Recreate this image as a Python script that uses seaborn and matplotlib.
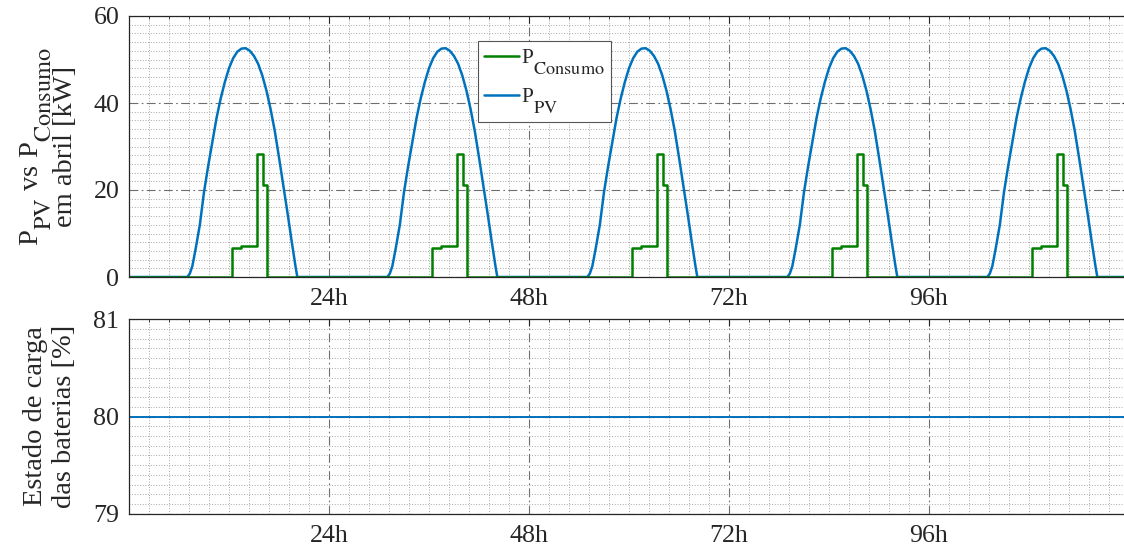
import numpy as np
import pandas as pd
import matplotlib
matplotlib.use('Agg')
import matplotlib.pyplot as plt
import matplotlib._mathtext as mathtext_interno
import seaborn as sns
from matplotlib.ticker import FixedLocator, MultipleLocator

# subscritos maiores e mais baixos, como no MATLAB
mathtext_interno.SHRINK_FACTOR = 0.85
mathtext_interno.STIXFontConstants.sub1 = 1.15

# perfil diario da geracao PV (hora do dia, kW)
pv_horas = [7.0, 7.3, 7.6, 8.0, 8.5, 9.0, 9.5, 10.0, 10.5, 11.0, 11.5, 12.0, 12.5,
            13.0, 13.5, 14.0, 14.5, 15.0, 15.5, 16.0, 16.5, 17.0, 17.5, 18.0,
            18.5, 19.0, 19.5, 20.0, 20.2]
pv_kw = [0.0, 0.8, 2.5, 6.5, 12.0, 19.5, 25.5, 31.0, 36.5, 41.0, 44.8, 48.0, 50.3,
         51.8, 52.5, 52.6, 52.0, 50.8, 49.0, 46.3, 42.8, 38.5, 33.5, 27.5,
         21.3, 15.0, 8.5, 2.2, 0.0]

# perfil diario do consumo (degraus: hora de inicio, kW)
cons_horas = [0.0, 12.4, 13.4, 15.3, 16.1, 16.6]
cons_kw = [0.0, 6.6, 7.1, 28.2, 21.1, 0.0]

n_dias = 5
t_fim = 120

# estado de carga das baterias
soc_horas = [0, 120]
soc_pct = [80, 80]

xticks = [24, 48, 72, 96]
xticklabels = ['24h', '48h', '72h', '96h']


def montar_serie(horas, valores):
    t, v = [0.0], [0.0]
    for d in range(n_dias):
        t += [24 * d + h for h in horas]
        v += list(valores)
    t.append(t_fim)
    v.append(0.0)
    return pd.DataFrame({'t': t, 'v': v})


df_pv = montar_serie(pv_horas, pv_kw)
df_cons = montar_serie(cons_horas, cons_kw)
df_soc = pd.DataFrame({'t': soc_horas, 'v': soc_pct})

sns.set_theme(style='white')
plt.rcParams['font.family'] = ['Liberation Serif', 'DejaVu Serif']
plt.rcParams['mathtext.fontset'] = 'stix'
plt.rcParams['axes.edgecolor'] = '#262626'
plt.rcParams['axes.linewidth'] = 0.9

verde = '#008000'
azul = '#0072BD'

fig = plt.figure(figsize=(11.24, 5.51), dpi=100)
ax1 = fig.add_axes([129 / 1124, 274 / 551, 1000 / 1124, 261 / 551])
ax2 = fig.add_axes([129 / 1124, 37.3 / 551, 1000 / 1124, 194.4 / 551])

sns.lineplot(data=df_pv, x='t', y='v', ax=ax1, color=azul, lw=1.8, sort=False,
             estimator=None, label=r'P$_{\mathrm{PV}}$')
sns.lineplot(data=df_cons, x='t', y='v', ax=ax1, color=verde, lw=1.8, sort=False,
             estimator=None, drawstyle='steps-post', label=r'P$_{\mathrm{Consumo}}$')
sns.lineplot(data=df_soc, x='t', y='v', ax=ax2, color=azul, lw=1.4, sort=False,
             estimator=None)

ax1.set_ylim(0, 60)
ax1.yaxis.set_major_locator(FixedLocator([0, 20, 40, 60]))
ax1.yaxis.set_minor_locator(MultipleLocator(2))
ax2.set_ylim(79, 81)
ax2.yaxis.set_major_locator(FixedLocator([79, 80, 81]))
ax2.yaxis.set_minor_locator(MultipleLocator(0.1))

for ax in (ax1, ax2):
    ax.set_xlim(0, t_fim)
    ax.set_xticks(xticks)
    ax.set_xticklabels(xticklabels)
    ax.xaxis.set_minor_locator(FixedLocator(np.arange(0, t_fim + 0.1, 2.4)))
    ax.set_xlabel('')
    ax.tick_params(which='both', direction='in', top=True, right=True,
                   colors='#262626', labelsize=18.7)
    ax.tick_params(which='major', length=5, width=0.8, pad=7)
    ax.tick_params(which='minor', length=2.5, width=0.6)
    ax.tick_params(axis='x', which='major', pad=8)
    ax.grid(which='major', linestyle=(0, (8, 3, 1.5, 3)), color='#6e6e6e', lw=0.8)
    ax.grid(which='minor', linestyle=(0, (1, 2.2)), color='#8a8a8a', lw=0.6)
    ax.set_axisbelow(True)
    for s in ax.spines.values():
        s.set_visible(True)

ax1.set_ylabel('P$_{\\mathrm{PV}}$ vs P$_{\\mathrm{Consumo}}$\nem abril [kW]',
               fontsize=20.5, labelpad=11, linespacing=0.95)
ax2.set_ylabel('Estado de carga\ndas baterias [%]', fontsize=20.5, labelpad=12,
               linespacing=1.2)

h, l = ax1.get_legend_handles_labels()
leg = ax1.legend(h[::-1], l[::-1], loc='upper left', bbox_to_anchor=(0.349, 0.905),
                 borderaxespad=0, fontsize=15.5, fancybox=False, framealpha=1,
                 edgecolor='#555555', handlelength=1.6, handletextpad=0.1,
                 borderpad=0.3, labelspacing=0.45)
leg.get_frame().set_linewidth(0.8)

fig.savefig('out.png', dpi=100)
